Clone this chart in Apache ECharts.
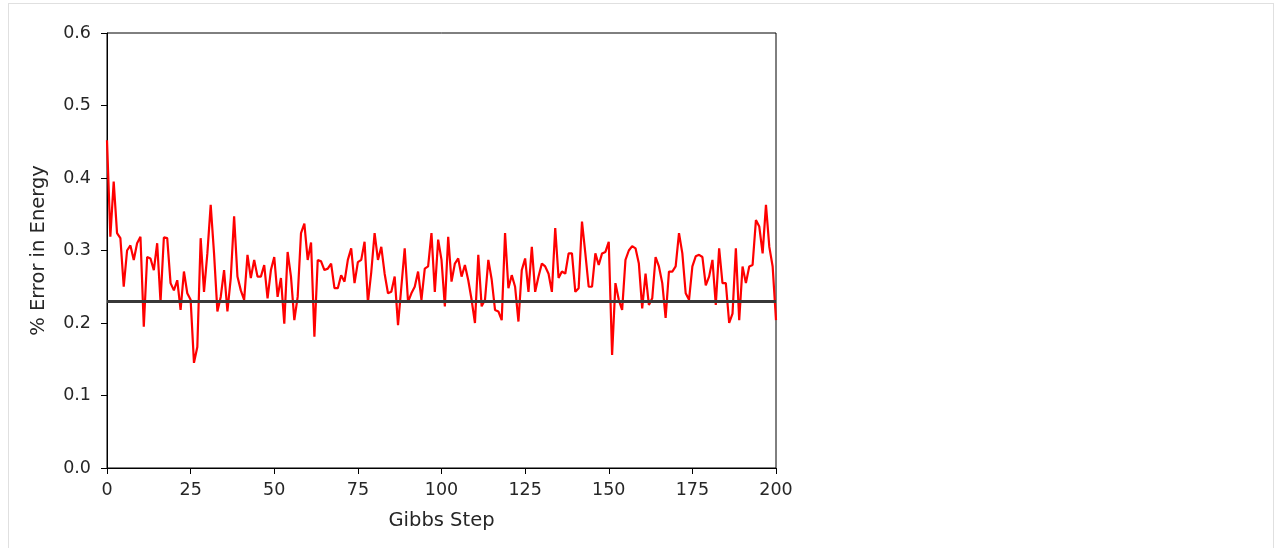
<!DOCTYPE html>
<html>
<head>
<meta charset="utf-8">
<script src="https://cdn.jsdelivr.net/npm/echarts@6/dist/echarts.min.js"></script>
<style>
    html, body { margin: 0; padding: 0; background: #fff; }
    #frame {
        position: absolute; left: 8px; top: 3px; width: 1264px; height: 545px;
        border-left: 1px solid #e0e0e0; border-right: 1px solid #e0e0e0; border-top: 1px solid #e0e0e0;
    }
    #main { position: absolute; left: 0; top: 0; width: 1275px; height: 548px; }
</style>
</head>
<body>
<div id="frame"></div>
<div id="main"></div>
<script>
// % error per Gibbs step (steps 0..200)
var errorValues = [
    0.452, 0.319, 0.395, 0.324, 0.317, 0.250, 0.300, 0.307, 0.287, 0.310,
    0.319, 0.195, 0.291, 0.289, 0.273, 0.310, 0.229, 0.318, 0.317, 0.255,
    0.245, 0.259, 0.218, 0.271, 0.241, 0.232, 0.145, 0.167, 0.317, 0.243,
    0.296, 0.363, 0.296, 0.216, 0.236, 0.273, 0.216, 0.262, 0.347, 0.264,
    0.245, 0.232, 0.294, 0.262, 0.287, 0.264, 0.264, 0.280, 0.234, 0.273,
    0.291, 0.236, 0.262, 0.199, 0.298, 0.264, 0.204, 0.236, 0.324, 0.337,
    0.287, 0.311, 0.181, 0.287, 0.285, 0.273, 0.275, 0.282, 0.248, 0.248,
    0.266, 0.257, 0.287, 0.303, 0.255, 0.284, 0.287, 0.312, 0.228, 0.270,
    0.324, 0.287, 0.305, 0.268, 0.241, 0.243, 0.264, 0.197, 0.250, 0.303,
    0.229, 0.241, 0.250, 0.271, 0.232, 0.275, 0.278, 0.324, 0.243, 0.315,
    0.287, 0.223, 0.319, 0.257, 0.282, 0.289, 0.264, 0.280, 0.259, 0.232,
    0.200, 0.294, 0.223, 0.232, 0.287, 0.260, 0.218, 0.216, 0.204, 0.324,
    0.248, 0.266, 0.250, 0.202, 0.273, 0.289, 0.243, 0.305, 0.243, 0.264,
    0.282, 0.278, 0.268, 0.243, 0.331, 0.262, 0.271, 0.268, 0.296, 0.296,
    0.243, 0.248, 0.340, 0.296, 0.250, 0.250, 0.296, 0.280, 0.296, 0.298,
    0.312, 0.156, 0.255, 0.232, 0.218, 0.287, 0.300, 0.306, 0.303, 0.282,
    0.220, 0.268, 0.225, 0.234, 0.291, 0.278, 0.255, 0.207, 0.271, 0.271,
    0.278, 0.324, 0.296, 0.241, 0.232, 0.278, 0.292, 0.294, 0.291, 0.252,
    0.264, 0.287, 0.225, 0.303, 0.255, 0.255, 0.200, 0.213, 0.303, 0.204,
    0.278, 0.255, 0.278, 0.280, 0.342, 0.333, 0.296, 0.363, 0.305, 0.278,
    0.204
];
var baselineValue = 0.23;
var xTicks = [0, 25, 50, 75, 100, 125, 150, 175, 200];
var yTicks = [0.0, 0.1, 0.2, 0.3, 0.4, 0.5, 0.6];

var lineData = [];
for (var i = 0; i < errorValues.length; i++) {
    lineData.push([i, errorValues[i]]);
}

function extend(a, b) {
    var o = {};
    for (var k in a) o[k] = a[k];
    for (var k2 in b) o[k2] = b[k2];
    return o;
}

var tickFont = { color: '#262626', fontSize: 17.5, fontFamily: 'DejaVu Sans' };
var titleFont = { color: '#262626', fontSize: 19.5, fontFamily: 'DejaVu Sans' };

var option = {
    backgroundColor: 'transparent',
    animation: false,
    grid: {
        left: 107, top: 33, width: 669, height: 435,
        show: true, borderColor: '#000', borderWidth: 1, backgroundColor: 'transparent'
    },
    xAxis: {
        type: 'value',
        min: xTicks[0], max: xTicks[xTicks.length - 1], interval: 25,
        name: 'Gibbs Step',
        nameLocation: 'middle',
        nameGap: 43,
        nameTextStyle: titleFont,
        axisLine: { lineStyle: { color: '#000', width: 1 } },
        axisTick: { show: true, length: 6, lineStyle: { color: '#000' } },
        axisLabel: extend(tickFont, { margin: 13 }),
        splitLine: { show: false }
    },
    yAxis: {
        type: 'value',
        min: yTicks[0], max: yTicks[yTicks.length - 1], interval: 0.1,
        name: '% Error in Energy',
        nameLocation: 'middle',
        nameGap: 58,
        nameTextStyle: titleFont,
        axisLine: { show: true, lineStyle: { color: '#000', width: 1 } },
        axisTick: { show: true, length: 6, lineStyle: { color: '#000' } },
        axisLabel: extend(tickFont, {
            margin: 16,
            formatter: function (v) { return v.toFixed(1); }
        }),
        splitLine: { show: false }
    },
    series: [{
        name: 'error',
        type: 'line',
        data: lineData,
        symbol: 'none',
        lineStyle: { color: '#ff0000', width: 2.2 },
        z: 2
    }, {
        name: 'baseline',
        type: 'line',
        data: [],
        markLine: {
            silent: true,
            symbol: 'none',
            label: { show: false },
            lineStyle: { color: '#383838', width: 2.8, type: 'solid' },
            data: [{ yAxis: baselineValue }]
        },
        z: 3
    }]
};

var myChart = echarts.init(document.getElementById('main'));
myChart.setOption(option);
</script>
</body>
</html>
